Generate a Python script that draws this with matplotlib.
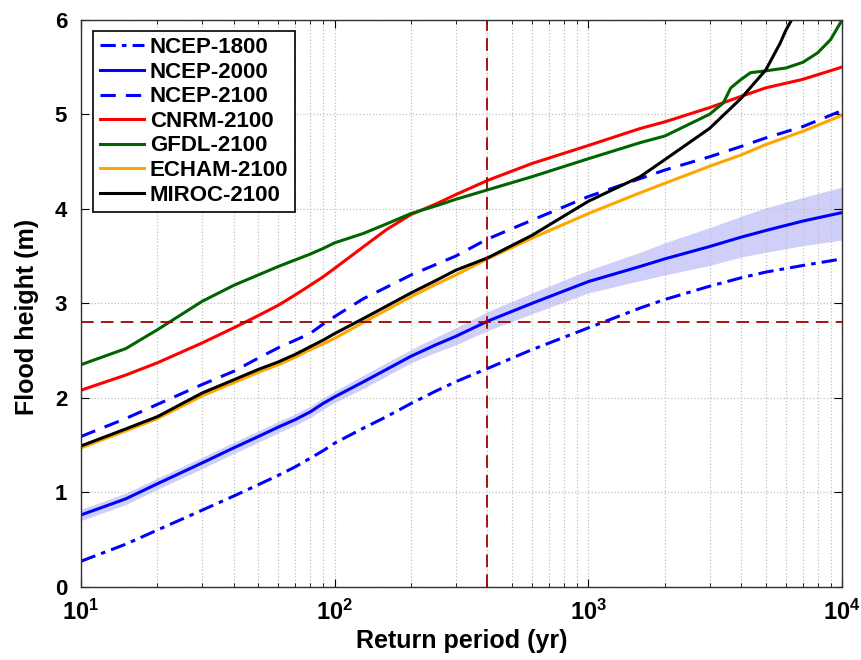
import matplotlib
matplotlib.use('Agg')
import matplotlib.pyplot as plt
from matplotlib.ticker import FixedLocator, FixedFormatter, LogLocator, NullFormatter

plt.rcParams['font.family'] = ['Liberation Sans', 'DejaVu Sans']
plt.rcParams['font.weight'] = 'bold'
plt.rcParams['mathtext.fontset'] = 'custom'
plt.rcParams['mathtext.bf'] = 'Liberation Sans:bold'
plt.rcParams['mathtext.rm'] = 'Liberation Sans:bold'

# периоды повторяемости (лет)
rp = [10, 15, 20, 30, 40, 50, 60, 70, 80, 90, 100, 130, 160, 200, 250, 300, 400, 600,
      1000, 1600, 2000, 3000, 4000, 5000, 7000, 10000]

ncep_1800 = [0.27, 0.45, 0.60, 0.81, 0.96, 1.08, 1.18, 1.27, 1.36, 1.44, 1.52, 1.68, 1.80, 1.94, 2.07, 2.17,
             2.31, 2.51, 2.74, 2.95, 3.04, 3.18, 3.27, 3.33, 3.40, 3.47]
ncep_2000 = [0.76, 0.93, 1.09, 1.31, 1.47, 1.59, 1.69, 1.77, 1.85, 1.94, 2.01, 2.17, 2.30, 2.44, 2.56, 2.65,
             2.81, 3.00, 3.23, 3.39, 3.47, 3.60, 3.70, 3.77, 3.87, 3.96]
ncep_2000_lo = [0.70, 0.87, 1.03, 1.25, 1.41, 1.53, 1.63, 1.71, 1.79, 1.88, 1.95, 2.10, 2.23, 2.37, 2.48, 2.56,
                2.71, 2.89, 3.11, 3.24, 3.30, 3.40, 3.49, 3.54, 3.61, 3.67]
ncep_2000_hi = [0.82, 0.99, 1.15, 1.37, 1.53, 1.65, 1.75, 1.83, 1.91, 2.00, 2.07, 2.24, 2.37, 2.51, 2.64, 2.74,
                2.91, 3.11, 3.35, 3.54, 3.64, 3.80, 3.92, 4.01, 4.12, 4.23]
ncep_2100 = [1.59, 1.78, 1.93, 2.14, 2.28, 2.42, 2.53, 2.61, 2.68, 2.78, 2.86, 3.05, 3.17, 3.30, 3.41, 3.50,
             3.68, 3.88, 4.13, 4.32, 4.41, 4.55, 4.66, 4.75, 4.87, 5.04]
cnrm_2100 = [2.08, 2.24, 2.37, 2.58, 2.74, 2.87, 2.98, 3.09, 3.19, 3.28, 3.37, 3.60, 3.78, 3.94, 4.05, 4.15,
             4.30, 4.48, 4.67, 4.85, 4.92, 5.07, 5.19, 5.28, 5.37, 5.50]
echam_2100 = [1.47, 1.65, 1.78, 2.02, 2.16, 2.27, 2.35, 2.43, 2.51, 2.57, 2.63, 2.80, 2.93, 3.07, 3.20, 3.30,
              3.47, 3.69, 3.95, 4.17, 4.27, 4.45, 4.57, 4.68, 4.82, 4.99]

rp_gfdl = [10, 15, 20, 30, 40, 50, 60, 70, 80, 90, 100, 130, 160, 200, 250, 300, 400, 600, 1000, 1600, 2000,
           3000, 3400, 3640, 4000, 4350, 5000, 6000, 7000, 8000, 9000, 10000]
gfdl_2100 = [2.35, 2.52, 2.72, 3.02, 3.19, 3.30, 3.39, 3.46, 3.52, 3.58, 3.64, 3.74, 3.84, 3.95, 4.03, 4.10,
             4.20, 4.34, 4.53, 4.70, 4.77, 5.00, 5.12, 5.28, 5.37, 5.44, 5.46, 5.49, 5.55, 5.65, 5.79, 6.00]

rp_miroc = [10, 15, 20, 30, 40, 50, 60, 70, 80, 90, 100, 130, 160, 200, 250, 300, 400, 600, 1000, 1600, 2000,
            3000, 4000, 5000, 5690, 6000, 6320, 6700]
miroc_2100 = [1.49, 1.67, 1.80, 2.05, 2.19, 2.30, 2.38, 2.46, 2.54, 2.61, 2.68, 2.84, 2.97, 3.11, 3.24, 3.35,
              3.48, 3.72, 4.08, 4.34, 4.52, 4.85, 5.17, 5.47, 5.75, 5.89, 6.00, 6.15]

# пороговые значения
rp_ref = 400
h_ref = 2.8

fig = plt.figure(figsize=(8.62, 6.6), dpi=100)
ax = fig.add_axes([0.094, 0.111, 0.883, 0.859])

lw = 2.2
ax.fill_between(rp, ncep_2000_lo, ncep_2000_hi, color='#cfcffa', linewidth=0)
ax.plot(rp, ncep_1800, color='#0000ff', lw=lw, linestyle=(0, (5, 2, 1.5, 2)), label='NCEP-1800')
ax.plot(rp, ncep_2000, color='#0000ff', lw=lw, label='NCEP-2000')
ax.plot(rp, ncep_2100, color='#0000ff', lw=lw, linestyle=(0, (5, 3.3)), label='NCEP-2100')
ax.plot(rp, cnrm_2100, color='#ff0000', lw=lw, label='CNRM-2100')
ax.plot(rp_gfdl, gfdl_2100, color='#006400', lw=lw, label='GFDL-2100')
ax.plot(rp, echam_2100, color='#ffa500', lw=lw, label='ECHAM-2100')
ax.plot(rp_miroc, miroc_2100, color='black', lw=lw, label='MIROC-2100')

ax.axhline(h_ref, color='#a00000', lw=1.3, linestyle=(0, (7, 4)))
ax.axvline(rp_ref, color='#a00000', lw=1.3, linestyle=(0, (7, 4)))

ax.set_xscale('log')
ax.set_xlim(10, 10000)
ax.set_ylim(0, 6)

ax.xaxis.set_major_locator(FixedLocator([10, 100, 1000, 10000]))
ax.xaxis.set_major_formatter(FixedFormatter([r'$\mathbf{10^{1}}$', r'$\mathbf{10^{2}}$',
                                             r'$\mathbf{10^{3}}$', r'$\mathbf{10^{4}}$']))
ax.xaxis.set_minor_locator(LogLocator(base=10, subs=range(2, 10)))
ax.xaxis.set_minor_formatter(NullFormatter())
ax.set_yticks([0, 1, 2, 3, 4, 5, 6])

ax.tick_params(which='both', direction='in', top=True, right=True)
ax.tick_params(axis='x', labelsize=17, pad=9)
ax.tick_params(axis='y', labelsize=16, pad=10)
ax.tick_params(which='major', length=6)
ax.tick_params(which='minor', length=3)
for lab in ax.get_yticklabels():
    lab.set_fontweight('bold')

ax.grid(True, which='major', color='#c0c0c0', linestyle=':', linewidth=0.9)
ax.grid(True, which='minor', axis='x', color='#c0c0c0', linestyle=':', linewidth=0.9)
for s in ax.spines.values():
    s.set_color('#303030')
    s.set_linewidth(1.0)

ax.set_xlabel('Return period (yr)', fontsize=18, fontweight='bold', labelpad=3)
ax.set_ylabel('Flood height (m)', fontsize=18, fontweight='bold')
ax.yaxis.set_label_coords(-0.055, 0.476)

leg = ax.legend(loc='upper left', bbox_to_anchor=(0.016, 0.981), prop={'size': 16, 'weight': 'bold'},
                handlelength=2.0, handletextpad=0.25, labelspacing=0.16, borderpad=0.3,
                fancybox=False, framealpha=1.0, borderaxespad=0)
leg.get_frame().set_edgecolor('black')
leg.get_frame().set_linewidth(1.2)

plt.savefig('out.png', dpi=100)
